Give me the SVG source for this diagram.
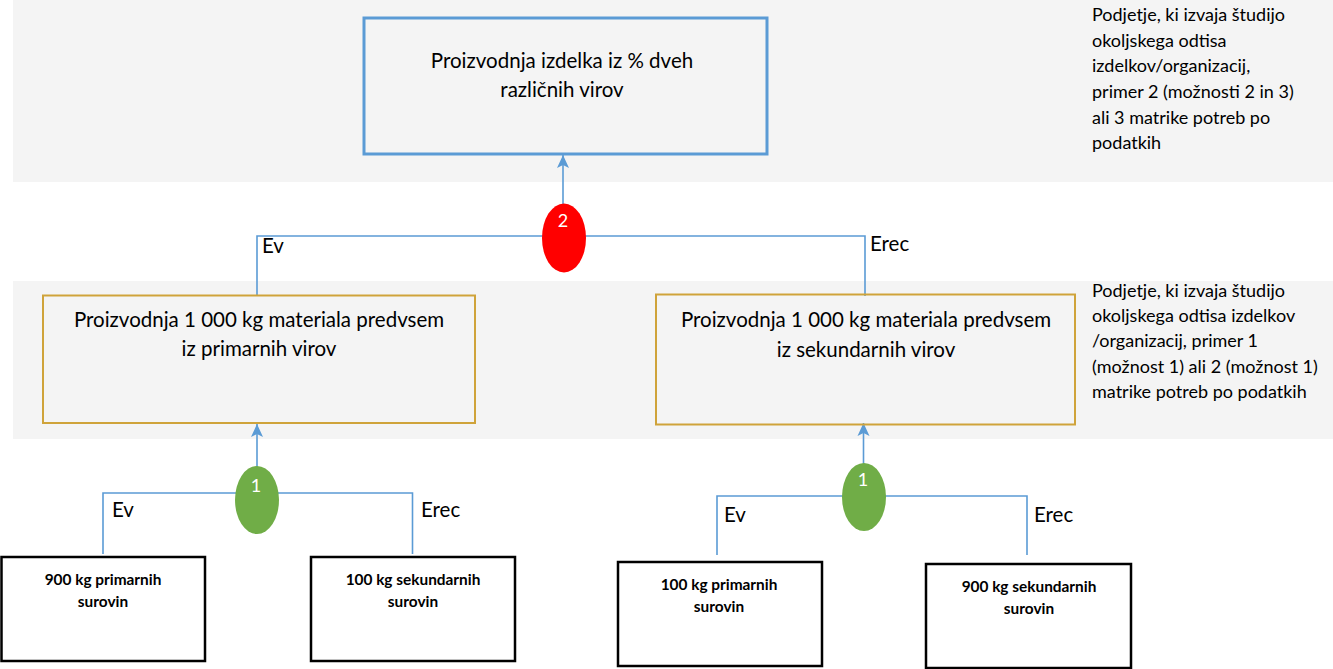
<svg xmlns="http://www.w3.org/2000/svg" width="1333" height="669" viewBox="0 0 1333 669">
<style>
text{font-family:Lato,"Open Sans","Liberation Sans",sans-serif;fill:#000}
.band{fill:#f4f4f4}
.conn{fill:none;stroke:#5b9bd5;stroke-width:1.6}
.big{font-size:20.5px}
.note{font-size:18px}
.lbl{font-size:20.5px}
.raw{font-size:15.4px;font-weight:bold}
.num{font-size:18px;fill:#fff}
.goldbox{fill:none;stroke:#cfa33a;stroke-width:2}
.rawbox{fill:#fff;stroke:#000;stroke-width:2.5}
</style>
<defs>
<marker id="ah" viewBox="0 -7 14 14" refX="13" refY="0" markerWidth="14" markerHeight="14" markerUnits="userSpaceOnUse" orient="auto">
<path d="M0 -6 L13 0 L0 6 L3 0 Z" fill="#5b9bd5"/>
</marker>
</defs>
<rect class="band" x="13" y="0" width="1320" height="182"/>
<rect class="band" x="13" y="281" width="1320" height="158"/>

<g id="connectors">
<line class="conn" x1="563" y1="206" x2="563" y2="155" marker-end="url(#ah)"/>
<path class="conn" d="M257 296 V236 H865 V296"/>
<line class="conn" x1="257" y1="468" x2="257" y2="424" marker-end="url(#ah)"/>
<path class="conn" d="M103 554 V493 H412.5 V554"/>
<line class="conn" x1="863.5" y1="465" x2="863.5" y2="423" marker-end="url(#ah)"/>
<path class="conn" d="M717 555 V496 H1027 V555"/>
</g>

<g id="top">
<rect x="364" y="18" width="403" height="136" fill="none" stroke="#5b9bd5" stroke-width="3"/>
<text class="big" text-anchor="middle" x="562" y="68">Proizvodnja izdelka iz % dveh</text>
<text class="big" text-anchor="middle" x="562" y="97">različnih virov</text>
</g>

<g id="note1" class="note">
<text x="1092" y="21">Podjetje, ki izvaja študijo</text>
<text x="1092" y="47">okoljskega odtisa</text>
<text x="1092" y="72">izdelkov/organizacij,</text>
<text x="1092" y="98">primer 2 (možnosti 2 in 3)</text>
<text x="1092" y="124">ali 3 matrike potreb po</text>
<text x="1092" y="149">podatkih</text>
</g>

<g id="node2">
<ellipse cx="564" cy="238" rx="22" ry="34.5" fill="#ff0000"/>
<text class="num" text-anchor="middle" x="563" y="227">2</text>
</g>
<g id="labels2" class="lbl">
<text x="262" y="253">Ev</text>
<text x="870" y="251">Erec</text>
</g>

<g id="midLeft">
<rect class="goldbox" x="43" y="295.5" width="432" height="127.5"/>
<text class="big" text-anchor="middle" x="259" y="327">Proizvodnja 1 000 kg materiala predvsem</text>
<text class="big" text-anchor="middle" x="259" y="356">iz primarnih virov</text>
</g>
<g id="midRight">
<rect class="goldbox" x="656" y="294.5" width="419" height="130"/>
<text class="big" text-anchor="middle" x="866" y="327">Proizvodnja 1 000 kg materiala predvsem</text>
<text class="big" text-anchor="middle" x="866" y="357">iz sekundarnih virov</text>
</g>

<g id="note2" class="note">
<text x="1092" y="297">Podjetje, ki izvaja študijo</text>
<text x="1092" y="322">okoljskega odtisa izdelkov</text>
<text x="1092" y="347">/organizacij, primer 1</text>
<text x="1092" y="373">(možnost 1) ali 2 (možnost 1)</text>
<text x="1092" y="398">matrike potreb po podatkih</text>
</g>

<g id="node1left">
<ellipse cx="257" cy="500" rx="22" ry="34" fill="#70ad47"/>
<text class="num" text-anchor="middle" x="256" y="492">1</text>
</g>
<g id="node1right">
<ellipse cx="864" cy="497" rx="22" ry="34" fill="#70ad47"/>
<text class="num" text-anchor="middle" x="863" y="486">1</text>
</g>
<g id="labels1" class="lbl">
<text x="112" y="517">Ev</text>
<text x="421" y="517">Erec</text>
<text x="724" y="522">Ev</text>
<text x="1034" y="522">Erec</text>
</g>

<g id="raw1">
<rect class="rawbox" x="1.5" y="557" width="203.5" height="104"/>
<text class="raw" text-anchor="middle" x="103" y="585">900 kg primarnih</text>
<text class="raw" text-anchor="middle" x="103" y="607">surovin</text>
</g>
<g id="raw2">
<rect class="rawbox" x="311" y="557" width="204" height="104"/>
<text class="raw" text-anchor="middle" x="413" y="585">100 kg sekundarnih</text>
<text class="raw" text-anchor="middle" x="413" y="607">surovin</text>
</g>
<g id="raw3">
<rect class="rawbox" x="618" y="562" width="204" height="104"/>
<text class="raw" text-anchor="middle" x="719" y="590">100 kg primarnih</text>
<text class="raw" text-anchor="middle" x="719" y="612">surovin</text>
</g>
<g id="raw4">
<rect class="rawbox" x="926" y="564" width="205" height="104"/>
<text class="raw" text-anchor="middle" x="1029" y="592">900 kg sekundarnih</text>
<text class="raw" text-anchor="middle" x="1029" y="614">surovin</text>
</g>
</svg>
